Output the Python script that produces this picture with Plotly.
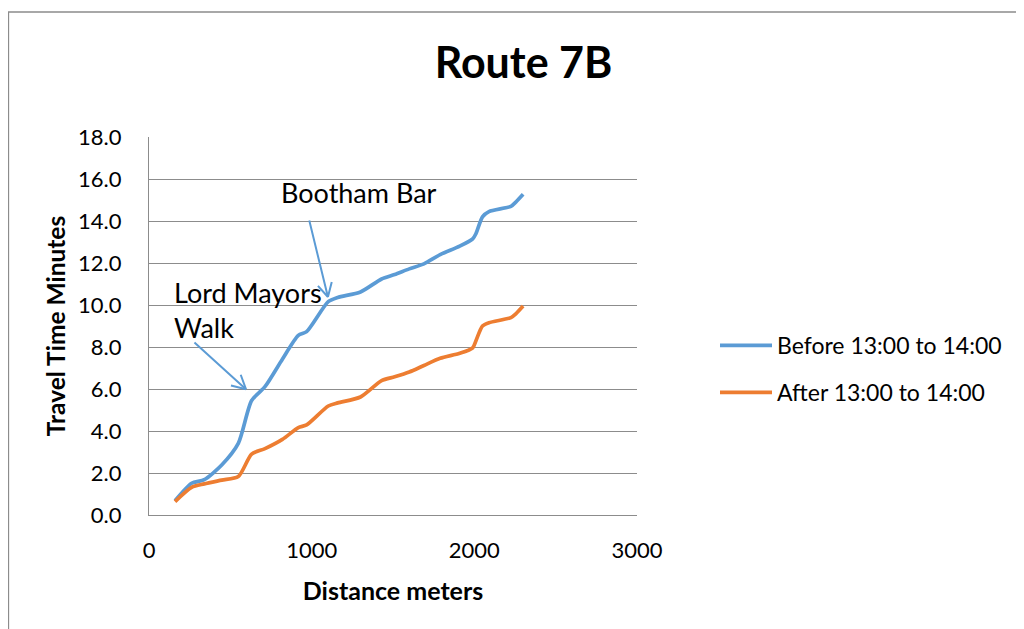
import numpy as np
import plotly.graph_objects as go

# ---- data ----
distance_m = [160, 262, 340, 447, 549, 631, 713, 820, 918, 969, 1102, 1160, 1300,
              1430, 1510, 1600, 1690, 1790, 1910, 1990, 2010, 2050, 2090, 2225, 2255, 2300]
before_min = [0.68, 1.51, 1.68, 2.38, 3.41, 5.45, 6.11, 7.42, 8.55, 8.73, 10.16, 10.36, 10.62,
              11.24, 11.45, 11.72, 11.96, 12.40, 12.80, 13.15, 13.40, 14.20, 14.45, 14.70, 14.90, 15.27]
after_min = [0.64, 1.32, 1.48, 1.66, 1.83, 2.90, 3.16, 3.60, 4.16, 4.29, 5.19, 5.34, 5.62,
             6.40, 6.58, 6.81, 7.12, 7.46, 7.70, 7.96, 8.30, 9.00, 9.16, 9.40, 9.58, 9.95]
series_names = ["Before 13:00 to 14:00", "After 13:00 to 14:00"]
x_ticks = [0, 1000, 2000, 3000]
y_ticks = [0, 2, 4, 6, 8, 10, 12, 14, 16, 18]

# callouts: label, label position (data), arrow tip (data), tail offset (px)
callout_labels = ["Bootham Bar", "Lord Mayors<br>Walk"]
callout_label_pos = [(1294, 15.38), (140, 9.74)]
callout_tips = [(1100, 10.38), (596, 5.99)]
callout_tail_px = [(-19, -78), (-53, -48)]

BLUE = "#5B9BD5"
ORANGE = "#ED7D31"
FONT = "Lato"

# page has an 8px body margin -> figure is 8px smaller, positions shifted by 8
W, H = 1016, 621
L, T = 141, 129
pw, ph = 488, 378
R, B = W - L - pw, H - T - ph

fig = go.Figure()
for name, vals, col, grp in [(series_names[0], before_min, BLUE, "a"),
                             (series_names[1], after_min, ORANGE, "b")]:
    fig.add_trace(go.Scatter(x=distance_m, y=vals, name=name, mode="lines",
                             line=dict(color=col, width=3.7, shape="spline", smoothing=0.7),
                             legendgroup=grp))

annotations = []
for lab, (lx, ly) in zip(callout_labels, callout_label_pos):
    multi = "<br>" in lab
    annotations.append(dict(x=lx, y=ly, xref="x", yref="y", text=lab, showarrow=False,
                            xanchor="left" if multi else "center", yanchor="middle",
                            align="left", font=dict(family=FONT, size=27, color="#000")))
for (tx, ty), (ox, oy) in zip(callout_tips, callout_tail_px):
    # shaft
    annotations.append(dict(x=tx, y=ty, xref="x", yref="y", ax=ox, ay=oy, text="",
                            showarrow=True, arrowhead=0, arrowwidth=2, arrowcolor=BLUE,
                            standoff=0, startstandoff=0))
    # open arrow head: two short arms
    d = np.array([ox, oy], dtype=float)
    d /= np.linalg.norm(d)
    for ang in (np.radians(28), -np.radians(28)):
        rot = np.array([[np.cos(ang), -np.sin(ang)], [np.sin(ang), np.cos(ang)]])
        v = rot @ d * 17
        annotations.append(dict(x=tx, y=ty, xref="x", yref="y", ax=float(v[0]), ay=float(v[1]),
                                text="", showarrow=True, arrowhead=0, arrowwidth=2,
                                arrowcolor=BLUE, standoff=0, startstandoff=0))

# outer chart border
shapes = [dict(type="rect", xref="paper", yref="paper",
               x0=(0.5 - L) / pw, x1=(W + 10 - L) / pw,
               y0=(T + ph - (H + 10)) / ph, y1=(T + ph - 4) / ph,
               line=dict(color="#8c8c8c", width=1.3), fillcolor="rgba(0,0,0,0)", layer="below")]

fig.update_layout(
    width=W, height=H,
    margin=dict(l=L, r=R, t=T, b=B, autoexpand=False),
    paper_bgcolor="white", plot_bgcolor="white",
    title=dict(text="<b>Route 7B</b>", x=515.5 / W, y=1 - 55 / H, xanchor="center",
               yanchor="middle", font=dict(family=FONT, size=43, color="#000")),
    font=dict(family=FONT, color="#000"),
    showlegend=True,
    legend=dict(x=(707 - L) / pw, y=(T + ph - 316) / ph, xanchor="left", yanchor="top",
                font=dict(family=FONT, size=23, color="#000"), itemwidth=52,
                traceorder="grouped", tracegroupgap=14, bgcolor="rgba(0,0,0,0)"),
    annotations=annotations,
    shapes=shapes,
)
fig.update_xaxes(range=[0, 3000], tickvals=x_ticks, ticktext=[str(v) for v in x_ticks],
                 showgrid=False, zeroline=False, showline=True, linecolor="#8c8c8c", linewidth=1.3,
                 ticks="outside", ticklen=15, tickcolor="rgba(0,0,0,0)",
                 tickfont=dict(family=FONT, size=22, color="#000"),
                 title=dict(text="<b>Distance meters</b>", font=dict(family=FONT, size=25, color="#000"),
                            standoff=20))
fig.update_yaxes(range=[0, 18], tickvals=y_ticks, ticktext=[f"{v:.1f}" for v in y_ticks],
                 showgrid=True, gridcolor="#8c8c8c", gridwidth=1.3, zeroline=False,
                 showline=True, linecolor="#8c8c8c", linewidth=1.3,
                 ticks="outside", ticklen=22, tickcolor="rgba(0,0,0,0)",
                 tickfont=dict(family=FONT, size=22, color="#000"),
                 title=dict(text="<b>Travel Time Minutes</b>", font=dict(family=FONT, size=24.5, color="#000"),
                            standoff=5))

fig.write_html("out.html")
